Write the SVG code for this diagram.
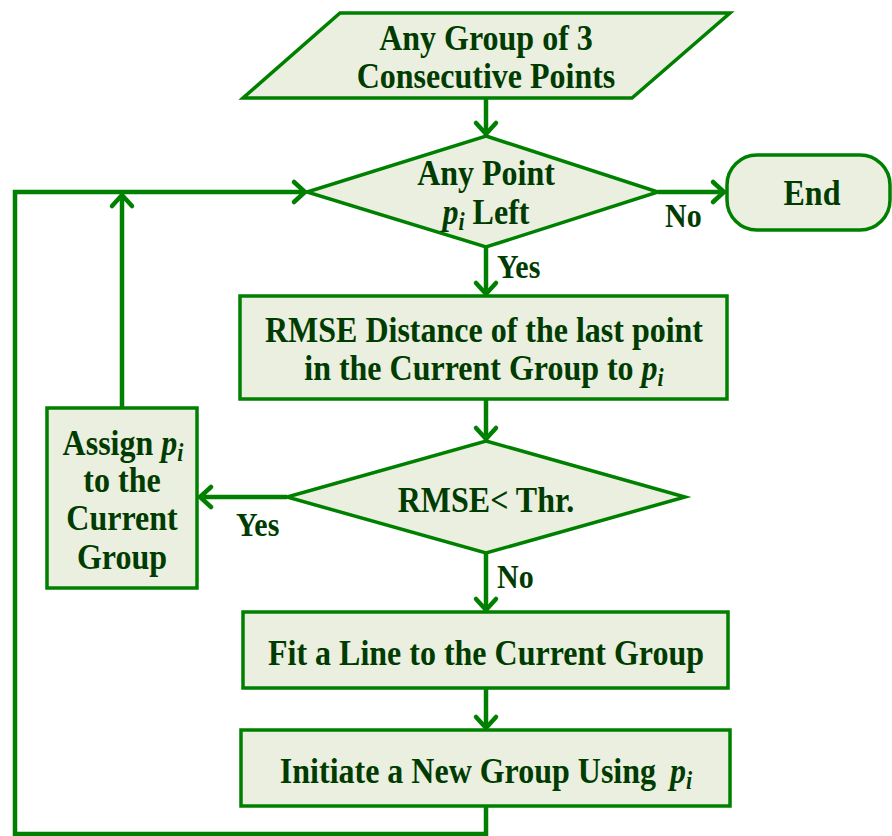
<svg xmlns="http://www.w3.org/2000/svg" width="892" height="836" viewBox="0 0 892 836">
  <style>
    .shape { fill: #ebefdf; stroke: #008000; stroke-width: 3.5; stroke-linejoin: miter; }
    .wire { fill: none; stroke: #008000; stroke-width: 4.5; stroke-linejoin: miter; }
    .t { font-family: "Liberation Serif", "Times New Roman", serif; font-weight: bold; font-size: 32px; fill: #003c00; text-anchor: middle; }
    .lbl { font-family: "Liberation Serif", "Times New Roman", serif; font-weight: bold; font-size: 30px; fill: #003c00; }
    .it { font-style: italic; }
    .sub { font-style: italic; font-size: 22px; }
  </style>
  <defs>
    <marker id="arrow" markerUnits="userSpaceOnUse" markerWidth="30" markerHeight="30" viewBox="-15 -15 30 30" refX="0" refY="0" orient="auto">
      <polyline points="-11,-10 0,0 -11,10" fill="none" stroke="#008000" stroke-width="4.5" stroke-linecap="round" stroke-linejoin="miter"/>
    </marker>
  </defs>

  <!-- connectors -->
  <g id="connectors">
    <line class="wire" x1="486" y1="98" x2="486" y2="134" marker-end="url(#arrow)"/>
    <line class="wire" x1="658" y1="192" x2="724" y2="192" marker-end="url(#arrow)"/>
    <line class="wire" x1="486" y1="247" x2="486" y2="294" marker-end="url(#arrow)"/>
    <line class="wire" x1="486" y1="399" x2="486" y2="439" marker-end="url(#arrow)"/>
    <line class="wire" x1="287" y1="497" x2="200" y2="497" marker-end="url(#arrow)"/>
    <line class="wire" x1="486" y1="553" x2="486" y2="610" marker-end="url(#arrow)"/>
    <line class="wire" x1="486" y1="688" x2="486" y2="728" marker-end="url(#arrow)"/>
    <line class="wire" x1="122" y1="408" x2="122" y2="195" marker-end="url(#arrow)"/>
    <polyline class="wire" points="486,806 486,834 15,834 15,192 305,192" marker-end="url(#arrow)"/>
  </g>

  <!-- text is drawn slightly stretched vertically: translate to baseline, then scale -->
  <g id="start">
    <polygon class="shape" points="340,13 730,13 632,98 243,98"/>
    <text class="t" x="486" y="0" transform="translate(0 50) scale(1 1.15)">Any Group of 3</text>
    <text class="t" x="486" y="0" transform="translate(0 88) scale(1 1.15)">Consecutive Points</text>
  </g>

  <g id="any-point">
    <polygon class="shape" points="486,136 658,192 486,247 307,192"/>
    <text class="t" x="486" y="0" transform="translate(0 185) scale(1 1.15)">Any Point</text>
    <text class="t" x="486" y="0" transform="translate(0 224) scale(1 1.15)"><tspan class="it">p</tspan><tspan class="sub" dy="5">i</tspan><tspan dy="-5"> Left</tspan></text>
  </g>

  <g id="end">
    <rect class="shape" x="727" y="155" width="163" height="75" rx="30" ry="30"/>
    <text class="t" x="812" y="0" transform="translate(0 205) scale(1 1.15)">End</text>
  </g>

  <g id="rmse-distance">
    <rect class="shape" x="240" y="296" width="487" height="103"/>
    <text class="t" x="484" y="0" transform="translate(0 342) scale(1 1.15)">RMSE Distance of the last point</text>
    <text class="t" x="484" y="0" transform="translate(0 380) scale(1 1.15)">in the Current Group to <tspan class="it">p</tspan><tspan class="sub" dy="5">i</tspan></text>
  </g>

  <g id="threshold">
    <polygon class="shape" points="486,441 685,497 486,553 287,497"/>
    <text class="t" x="486" y="0" transform="translate(0 512) scale(1 1.15)">RMSE&lt; Thr.</text>
  </g>

  <g id="assign">
    <rect class="shape" x="47" y="408" width="150" height="180"/>
    <text class="t" x="123" y="0" transform="translate(0 455) scale(1 1.15)">Assign <tspan class="it">p</tspan><tspan class="sub" dy="5">i</tspan></text>
    <text class="t" x="122" y="0" transform="translate(0 492) scale(1 1.15)">to the</text>
    <text class="t" x="122" y="0" transform="translate(0 530) scale(1 1.15)">Current</text>
    <text class="t" x="122" y="0" transform="translate(0 569) scale(1 1.15)">Group</text>
  </g>

  <g id="fit-line">
    <rect class="shape" x="243" y="612" width="485" height="76"/>
    <text class="t" x="486" y="0" transform="translate(0 665) scale(1 1.15)">Fit a Line to the Current Group</text>
  </g>

  <g id="new-group">
    <rect class="shape" x="241" y="730" width="489" height="76"/>
    <text class="t" x="486" y="0" transform="translate(0 783) scale(1 1.15)">Initiate a New Group Using <tspan class="it" dx="6">p</tspan><tspan class="sub" dy="5">i</tspan></text>
  </g>

  <!-- branch labels -->
  <g id="labels">
    <text class="lbl" x="665" y="0" transform="translate(0 227) scale(1 1.15)">No</text>
    <text class="lbl" x="497" y="0" transform="translate(0 278) scale(1 1.15)">Yes</text>
    <text class="lbl" x="236" y="0" transform="translate(0 536) scale(1 1.15)">Yes</text>
    <text class="lbl" x="497" y="0" transform="translate(0 588) scale(1 1.15)">No</text>
  </g>
</svg>
